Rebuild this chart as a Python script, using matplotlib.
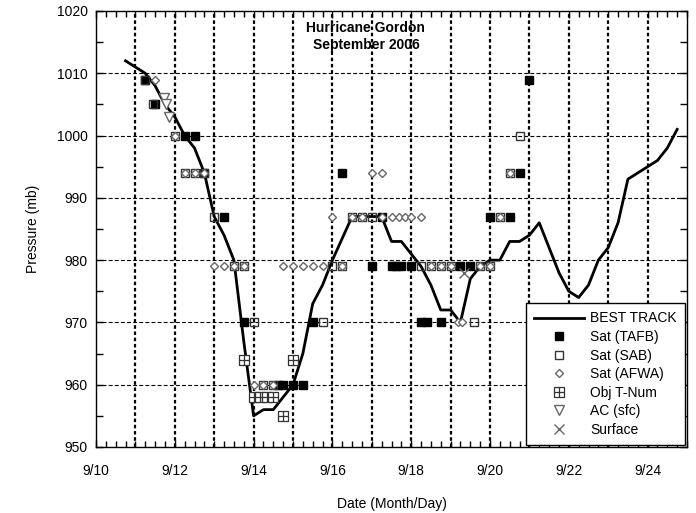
import matplotlib
matplotlib.use("Agg")
import matplotlib.pyplot as plt
import numpy as np
from matplotlib.path import Path
from matplotlib.ticker import MultipleLocator, FixedLocator

plt.rcParams['font.family'] = ['Liberation Sans', 'DejaVu Sans']

# ---- data (x = day of September, y = pressure mb) ----
bt_day = [10.75, 11.0, 11.25, 11.5, 11.75, 12.0, 12.25, 12.5, 12.75, 13.0, 13.25, 13.5, 13.75,
          14.0, 14.25, 14.5, 14.75, 15.0, 15.25, 15.5, 15.75, 16.0, 16.25, 16.5, 16.75, 17.0,
          17.25, 17.5, 17.75, 18.0, 18.25, 18.5, 18.75, 19.0, 19.25, 19.5, 19.75, 20.0, 20.25,
          20.5, 20.75, 21.0, 21.25, 21.5, 21.75, 22.0, 22.25, 22.5, 22.75, 23.0, 23.25, 23.5,
          23.75, 24.0, 24.25, 24.5, 24.75]
bt_pres = [1012, 1011, 1010, 1008, 1005, 1003, 1000, 998, 994, 987, 984, 980, 967,
           955, 956, 956, 958, 960, 965, 973, 976, 980, 983.5, 987, 987, 987,
           987, 983, 983, 981, 979, 976, 972, 972, 970, 977, 979, 980, 980,
           983, 983, 984, 986, 982, 978, 975, 974, 976, 980, 982, 986, 993,
           994, 995, 996, 998, 1001]

tafb_day = [11.25, 11.5, 12.25, 12.5, 12.75, 13.25, 13.75, 14.62, 14.75, 15.0, 15.25, 15.5,
            16.25, 17.0, 17.25, 17.5, 17.62, 17.75, 18.0, 18.25, 18.4, 18.75, 19.25, 19.5,
            20.0, 20.5, 20.75, 21.0]
tafb_pres = [1009, 1005, 1000, 1000, 994, 987, 970, 960, 960, 960, 960, 970,
             994, 979, 987, 979, 979, 979, 979, 970, 970, 970, 979, 979,
             987, 987, 994, 1009]

sab_day = [11.25, 11.45, 12.0, 12.25, 12.5, 12.75, 13.0, 13.5, 13.75, 14.0, 14.25, 14.5,
           15.75, 16.0, 16.25, 16.5, 16.75, 17.0, 18.25, 18.5, 18.75, 19.0, 19.6, 19.75,
           20.0, 20.25, 20.5, 20.75]
sab_pres = [1009, 1005, 1000, 994, 994, 994, 987, 979, 979, 970, 960, 960,
            970, 979, 979, 987, 987, 987, 979, 979, 979, 979, 970, 979,
            979, 987, 994, 1000]

afwa_day = [11.5, 12.0, 12.25, 12.5, 12.75, 13.0, 13.25, 13.5, 13.75, 14.0, 14.25, 14.5,
            14.75, 15.0, 15.25, 15.5, 15.75, 16.0, 16.25, 16.5, 16.75, 17.0, 17.25, 17.25,
            17.5, 17.7, 17.85, 18.0, 18.25, 18.5, 18.75, 19.0, 19.2, 19.3, 19.75, 20.0,
            20.25, 20.5]
afwa_pres = [1009, 1000, 994, 994, 994, 979, 979, 979, 979, 960, 960, 960,
             979, 979, 979, 979, 979, 987, 979, 987, 987, 994, 994, 987,
             987, 987, 987, 987, 987, 979, 979, 979, 970, 970, 979, 979,
             987, 994]

obj_day = [13.75, 14.0, 14.17, 14.33, 14.5, 14.75, 15.0]
obj_pres = [964, 958, 958, 958, 958, 955, 964]

ac_day = [11.72, 11.78, 11.85]
ac_pres = [1006, 1005, 1003]

sfc_day = [19.35]
sfc_pres = [978]

xtick_days = [10, 12, 14, 16, 18, 20, 22, 24]
xtick_labels = ['9/10', '9/12', '9/14', '9/16', '9/18', '9/20', '9/22', '9/24']

# ---- figure ----
fig = plt.figure(figsize=(6.96, 5.13), dpi=100)
ax = fig.add_axes([96/696, 1-447/513, (687-96)/696, (447-11)/513])

ax.set_xlim(10, 25)
ax.set_ylim(950, 1020)

# grid
for d in range(11, 25):
    ax.axvline(d, color='black', lw=1.6, ls=(0, (1.6, 1.2)), zorder=1)
for p in range(960, 1020, 10):
    ax.axhline(p, color='black', lw=0.8, ls=(0, (3.5, 2)), zorder=1)

ax.plot(bt_day, bt_pres, color='black', lw=2.0, zorder=3, label='BEST TRACK')

ms_sq = 6.3
ax.plot(tafb_day, tafb_pres, ls='none', marker='s', ms=ms_sq, mfc='black', mec='black',
        zorder=4, label='Sat (TAFB)')
ax.plot(sab_day, sab_pres, ls='none', marker='s', ms=ms_sq, mfc='none', mec='#333333',
        mew=1.0, zorder=5, label='Sat (SAB)')

boxplus = Path([(-1, -1), (1, -1), (1, 1), (-1, 1), (-1, -1), (0, -1), (0, 1), (-1, 0), (1, 0)],
               [Path.MOVETO, Path.LINETO, Path.LINETO, Path.LINETO, Path.CLOSEPOLY,
                Path.MOVETO, Path.LINETO, Path.MOVETO, Path.LINETO])
ax.plot(afwa_day, afwa_pres, ls='none', marker='D', ms=4.4, mfc='white', mec='#666666',
        mew=1.0, zorder=6, label='Sat (AFWA)')
ax.plot(obj_day, obj_pres, ls='none', marker=boxplus, ms=6.8, mfc='white', mec='#333333',
        mew=0.9, zorder=6, label='Obj T-Num')
ax.plot(ac_day, ac_pres, ls='none', marker='v', ms=6.5, mfc='white', mec='#666666',
        mew=1.0, zorder=7, label='AC (sfc)')
ax.plot(sfc_day, sfc_pres, ls='none', marker='x', ms=6.5, color='#666666', mew=1.0,
        zorder=7, label='Surface')

# ticks
ax.xaxis.set_major_locator(FixedLocator(xtick_days))
ax.set_xticklabels(xtick_labels)
ax.xaxis.set_minor_locator(MultipleLocator(0.25))
ax.yaxis.set_major_locator(MultipleLocator(10))
ax.yaxis.set_minor_locator(MultipleLocator(5))
ax.tick_params(which='both', direction='in', top=True, right=True, labelsize=10, width=1.0)
ax.tick_params(which='major', length=5, pad=6)
ax.tick_params(axis='x', which='major', pad=12)
ax.tick_params(which='minor', length=4)
ax.tick_params(axis='y', which='minor', length=5)
for s in ax.spines.values():
    s.set_linewidth(1.0)

ax.set_xlabel('Date (Month/Day)', fontsize=10, labelpad=14)
ax.set_ylabel('Pressure (mb)', fontsize=10, labelpad=12)

ax.text(16.85, 1015.9, 'Hurricane Gordon\nSeptember 2006', ha='center', va='center',
        fontsize=10, fontweight='bold', linespacing=1.25, zorder=8)

leg = ax.legend(loc='lower right', bbox_to_anchor=(0.997, 0.004), fontsize=10,
                frameon=True, fancybox=False, framealpha=1, edgecolor='black',
                handlelength=3.6, handletextpad=0.45, labelspacing=0.33, borderpad=0.6,
                borderaxespad=0)
leg.get_frame().set_linewidth(1.0)
leg.set_zorder(10)

fig.savefig('out.png', dpi=100)
